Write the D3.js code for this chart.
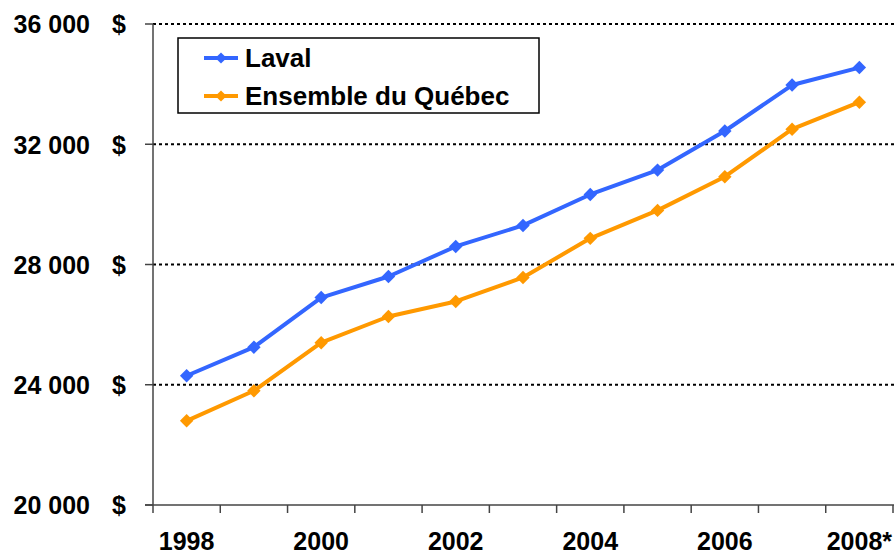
<!DOCTYPE html>
<html lang="fr">
<head>
<meta charset="UTF-8">
<title>Laval vs Ensemble du Québec</title>
<script src="https://d3js.org/d3.v7.min.js"></script>
<style>
    body { margin: 0; background: #fff; }
    text { font-family: Arial, "Liberation Sans", Helvetica, sans-serif; font-weight: bold; fill: #000; }
</style>
</head>
<body>
<div id="chart"></div>
<script>
    // donnees
    const years = ["1998", "1999", "2000", "2001", "2002", "2003", "2004", "2005", "2006", "2007", "2008*"];
    const laval = [24300, 25250, 26900, 27600, 28600, 29300, 30330, 31140, 32440, 33970, 34550];
    const quebec = [22800, 23800, 25400, 26270, 26770, 27570, 28870, 29800, 30920, 32500, 33400];
    const yTicks = [20000, 24000, 28000, 32000, 36000];
    const xLabels = ["1998", "2000", "2002", "2004", "2006", "2008*"];

    const series = [
        { name: "Laval", values: laval, color: "#3366ff" },
        { name: "Ensemble du Québec", values: quebec, color: "#ff9900" }
    ];

    const width = 894, height = 556;
    const margin = { top: 24, right: 1, bottom: 51, left: 153 };

    const svg = d3.select("#chart").append("svg")
        .attr("width", width)
        .attr("height", height);

    const x = d3.scaleBand()
        .domain(years)
        .range([margin.left, width - margin.right])
        .padding(0);

    const y = d3.scaleLinear()
        .domain([20000, 36000])
        .range([height - margin.bottom, margin.top]);

    const cx = d => x(d) + x.bandwidth() / 2;

    // lignes pointillees
    svg.append("g")
        .selectAll("line")
        .data(yTicks.filter(t => t > 20000))
        .enter().append("line")
        .attr("x1", margin.left)
        .attr("x2", width)
        .attr("y1", d => y(d))
        .attr("y2", d => y(d))
        .attr("stroke", "#000")
        .attr("stroke-width", 2)
        .attr("stroke-dasharray", "3,3");

    // axe Y
    svg.append("line")
        .attr("x1", margin.left).attr("x2", margin.left)
        .attr("y1", y(36000)).attr("y2", y(20000))
        .attr("stroke", "#444").attr("stroke-width", 1.5);

    svg.append("g")
        .selectAll("line")
        .data(yTicks)
        .enter().append("line")
        .attr("x1", margin.left - 8)
        .attr("x2", margin.left)
        .attr("y1", d => y(d))
        .attr("y2", d => y(d))
        .attr("stroke", "#444").attr("stroke-width", 1.5);

    const fmt = d3.formatLocale({ decimal: ",", thousands: " ", grouping: [3], currency: ["", " $"] }).format(",");

    const yLab = svg.append("g")
        .selectAll("g")
        .data(yTicks)
        .enter().append("g")
        .attr("transform", d => "translate(0," + y(d) + ")");

    yLab.append("text")
        .attr("x", 90)
        .attr("dy", "0.37em")
        .attr("text-anchor", "end")
        .style("font-size", "25px")
        .text(d => fmt(d));

    yLab.append("text")
        .attr("x", 126)
        .attr("dy", "0.37em")
        .attr("text-anchor", "end")
        .style("font-size", "25px")
        .text("$");

    // axe X
    svg.append("line")
        .attr("x1", margin.left - 8).attr("x2", width)
        .attr("y1", y(20000)).attr("y2", y(20000))
        .attr("stroke", "#444").attr("stroke-width", 1.5);

    svg.append("g")
        .selectAll("line")
        .data(years.concat(["end"]))
        .enter().append("line")
        .attr("x1", (d, i) => margin.left + i * x.bandwidth())
        .attr("x2", (d, i) => margin.left + i * x.bandwidth())
        .attr("y1", y(20000))
        .attr("y2", y(20000) + 8)
        .attr("stroke", "#444").attr("stroke-width", 1.5);

    svg.append("g")
        .selectAll("text")
        .data(xLabels)
        .enter().append("text")
        .attr("x", d => cx(d))
        .attr("y", 550)
        .attr("text-anchor", "middle")
        .style("font-size", "25px")
        .text(d => d);

    // courbes
    const line = d3.line()
        .x((d, i) => cx(years[i]))
        .y(d => y(d));

    const diamond = d3.symbol().type(d3.symbolDiamond2).size(115);

    series.forEach(s => {
        svg.append("path")
            .datum(s.values)
            .attr("d", line)
            .attr("fill", "none")
            .attr("stroke", s.color)
            .attr("stroke-width", 4)
            .attr("stroke-linejoin", "round");

        svg.append("g")
            .selectAll("path")
            .data(s.values)
            .enter().append("path")
            .attr("d", diamond)
            .attr("transform", (d, i) => "translate(" + cx(years[i]) + "," + y(d) + ")")
            .attr("fill", s.color);
    });

    // legende
    const legend = svg.append("g").attr("transform", "translate(178,38)");
    legend.append("rect")
        .attr("width", 361)
        .attr("height", 75)
        .attr("fill", "#fff")
        .attr("stroke", "#000")
        .attr("stroke-width", 1.5);

    const items = legend.selectAll("g.item")
        .data(series)
        .enter().append("g")
        .attr("class", "item")
        .attr("transform", (d, i) => "translate(0," + (20 + i * 38) + ")");

    items.append("line")
        .attr("x1", 26).attr("x2", 60)
        .attr("stroke", d => d.color)
        .attr("stroke-width", 4);

    items.append("path")
        .attr("d", d3.symbol().type(d3.symbolDiamond2).size(80))
        .attr("transform", "translate(43,0)")
        .attr("fill", d => d.color);

    items.append("text")
        .attr("x", 67)
        .attr("dy", "0.36em")
        .style("font-size", "26px")
        .text(d => d.name);
</script>
</body>
</html>
